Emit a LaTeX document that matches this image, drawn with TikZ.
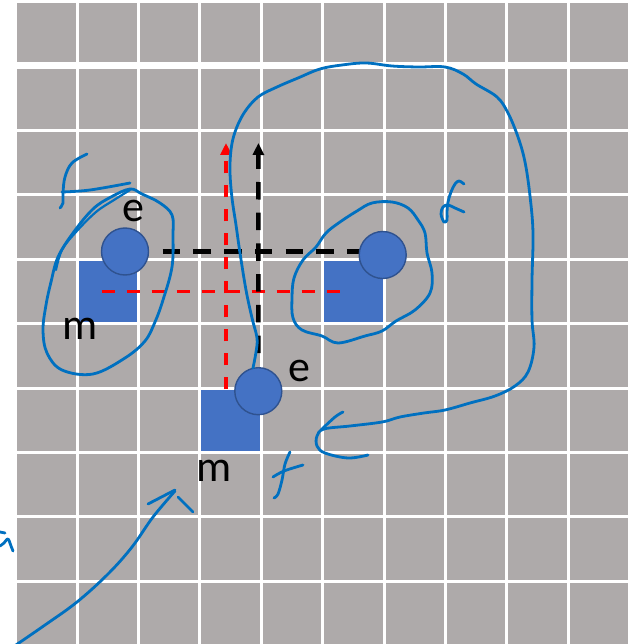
\documentclass[tikz,border=0pt]{standalone}
\usepackage{fontspec}
\setmainfont{Carlito}
\usetikzlibrary{arrows.meta,backgrounds}
\definecolor{cellcol}{HTML}{AEAAAA}
\definecolor{sqcol}{HTML}{4472C4}
\definecolor{ringcol}{HTML}{2F528F}
\definecolor{inkcol}{HTML}{0070C0}
\definecolor{redcol}{HTML}{FF0000}

\begin{document}
\begin{tikzpicture}[
  x=1pt, y=-1pt,
  gridline/.style={draw=white, line width=3pt},
  sqbox/.style={fill=sqcol, draw=none, minimum width=58.4pt, minimum height=61.4pt, inner sep=0pt},
  atom/.style={circle, fill=sqcol, draw=ringcol, line width=1.4pt, minimum size=47pt, inner sep=0pt},
  lbl/.style={font=\fontsize{44}{50}\selectfont, text=black, inner sep=0pt, anchor=base},
  reddash/.style={draw=redcol, line width=3.4pt, dash pattern=on 12.5pt off 11.5pt},
  blackdash/.style={draw=black, line width=4.5pt, dash pattern=on 17.5pt off 13.2pt},
  tipr/.style={-{Triangle[length=12pt,width=11pt]}},
  pen/.style={draw=inkcol, line width=2.8pt, line cap=round, line join=round}
]
\useasboundingbox (0,0) rectangle (635,644);

%% ===================== Circles (e) ==============================
\node[atom] (el) at (125,251.5) {};
\node[atom] (er) at (382.7,255) {};
\node[atom] (eb) at (258.3,391.2) {};

\coordinate (rtip) at (226,143);
\coordinate (btip) at (258.4,143);

\begin{pgfonlayer}{background}
%% ===================== Background grid ==========================
\fill[white] (0,0) rectangle (635,644);
\fill[cellcol] (15.6,1.6) rectangle (629.6,645.6);
\foreach \i in {0,...,10}
  \draw[gridline] (15.6+61.4*\i,0) -- (15.6+61.4*\i,646);
\foreach \j in {0,2,3,...,10}
  \draw[gridline] (15.6,1.6+64.4*\j) -- (629.6,1.6+64.4*\j);
\draw[gridline, line width=7pt] (15.6,66) -- (629.6,66);

%% ===================== Squares (m) ==============================
\node[sqbox] (ml) at (107.7,291.4) {};
\node[sqbox] (mr) at (353.3,291.4) {};
\node[sqbox] (mb) at (230.5,420.2) {};

%% ===================== Dashed offsets ===========================
\draw[reddash, dash pattern=on 13pt off 12pt, shorten <=-6pt, shorten >=7.3pt]
  (ml.center) -- (mr.center);
\draw[reddash, tipr] (rtip |- mb.north) -- (rtip);
\draw[blackdash, shorten <=13.5pt] (el.east) -- (el.east -| er.center);
\draw[blackdash, tipr, shorten <=14pt] (eb.north) -- (btip);
\end{pgfonlayer}

%% ===================== Labels ===================================
\node[lbl] (tel) at (133.5,221) {e};
\node[lbl] (tml) at (80.5,339) {m};
\node[lbl] (teb) at (299,381) {e};
\node[lbl] (tmb) at (214,481) {m};

%% ===================== Ink: left loop ===========================
\draw[pen] plot[smooth cycle, tension=0.6] coordinates {
  (130,189) (142,194) (160,203) (172,215) (173,235) (172,267) (163,300)
  (155,322) (145,341) (125,358) (93,374) (62,370) (47,353) (43,330)
  (46,305) (51,282) (58,257) (73,233) (93,209) (111,197)};
\draw[pen, line width=2.2pt] plot[smooth, tension=0.6] coordinates {
  (56,270) (62,250) (76,232) (96,212) (114,200) (130,190)};
\draw[pen] plot[smooth, tension=0.6] coordinates {
  (87,154) (72,163) (65,177) (63,193) (63,203) (60,208)};
\draw[pen] plot[smooth, tension=0.6] coordinates {(62,192) (90,190) (130,183)};

%% ===================== Ink: right loop ==========================
\draw[pen] plot[smooth cycle, tension=0.6] coordinates {
  (372,203) (392,202) (408,208) (418,220) (425,233) (427,253) (432,273)
  (430,293) (415,310) (396,321) (382,331) (365,336) (338,343) (322,336)
  (302,330) (293,318) (292,298) (294,278) (303,260) (316,247) (326,233)
  (340,222) (357,211)};
\draw[pen] plot[smooth, tension=0.6] coordinates {
  (464,184) (459,181) (455,184) (451,192) (448,202) (447,212) (447,220)
  (444,222) (441,214) (443,207) (448,205) (455,208) (464,212)};

%% ===================== Ink: big loop ============================
\draw[pen] plot[smooth, tension=0.6] coordinates {
  (253,368) (256,352) (257,338) (252,318) (246,290) (240,253) (236,225)
  (232,198) (230,172) (231,150) (235,132) (244,113) (258,97) (277,87)
  (298,78) (320,69) (342,65) (366,63) (392,66) (418,67) (445,67)
  (463,74) (476,84) (497,97) (508,113) (518,137) (525,162) (530,196)
  (533,233) (532,280) (532,320) (534,347) (528,372) (515,386) (495,396)
  (470,403) (445,410) (424,413) (400,417) (382,422) (350,426) (324,429)
  (317,436) (317,446) (325,453) (348,458) (368,455)};
\draw[pen] plot[smooth, tension=0.6] coordinates {(343,412) (335,417) (321,430)};
\draw[pen] plot[smooth, tension=0.6] coordinates {
  (290,452) (285,464) (282,480) (278,494) (274,498)};
\draw[pen] plot[smooth, tension=0.6] coordinates {(273,477) (284,471) (303,465)};

%% ===================== Ink: lower left arrow ====================
\draw[pen] plot[smooth, tension=0.6] coordinates {
  (13,647) (45,625) (77,602) (108,574) (132,547) (153,517) (175,491)};
\draw[pen] (148,504) -- (175,490);
\draw[pen] (178,497) -- (193,512);
\draw[pen] (0,532) -- (5,533);
\draw[pen] plot[smooth, tension=0.6] coordinates {(0,546) (4,543) (8,539) (11,546) (13,551)};

\end{tikzpicture}
\end{document}
